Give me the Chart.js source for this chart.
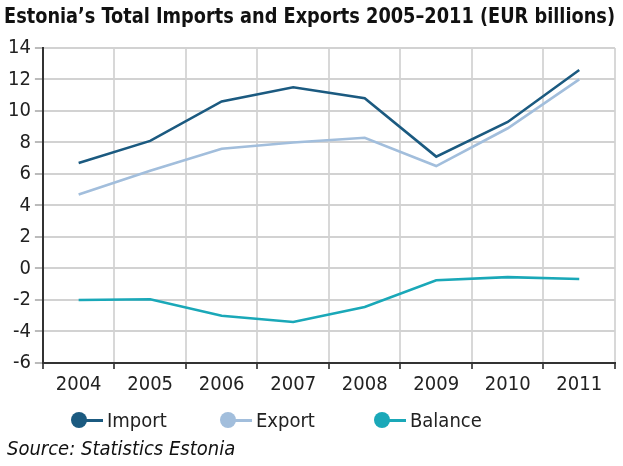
<!DOCTYPE html>
<html>
<head>
<meta charset="utf-8">
<script src="https://cdn.jsdelivr.net/npm/chart.js@4"></script>
<style>
  html, body { margin: 0; padding: 0; background: #fff; }
  #wrap { position: relative; width: 623px; height: 466px; font-family: "Liberation Sans Narrow", "DejaVu Sans Condensed", sans-serif; }
  #c { position: absolute; left: 0; top: 0; }
  #source { position: absolute; left: 7px; top: 436px; font-style: italic; font-size: 20px; color: #111; }
  .leg { position: absolute; top: 408px; height: 24px; font-size: 20px; color: #222; line-height: 24px; }
  .leg .dot { position: absolute; left: 0; top: 4px; width: 16px; height: 16px; border-radius: 50%; }
  .leg .ln { position: absolute; left: 8px; top: 10.5px; width: 24px; height: 3px; }
  .leg .tx { position: absolute; left: 36px; top: 0; white-space: nowrap; }
</style>
</head>
<body>
<div id="wrap">
  <canvas id="c" width="623" height="466"></canvas>
  <div id="legend"></div>
  <div id="source">Source: Statistics Estonia</div>
</div>
<script>
const years = ["2004", "2005", "2006", "2007", "2008", "2009", "2010", "2011"];
const importValues = [6.7, 8.1, 10.6, 11.5, 10.8, 7.1, 9.3, 12.6];
const exportValues = [4.7, 6.2, 7.6, 8.0, 8.3, 6.5, 8.9, 12.0];
const balanceValues = [-2.0, -1.95, -3.0, -3.4, -2.45, -0.75, -0.55, -0.67];
const seriesNames = ["Import", "Export", "Balance"];
const seriesColors = ["#1b5a80", "#a2bedc", "#1aa8b8"];

const FONT = '"Liberation Sans Narrow", "DejaVu Sans Condensed", sans-serif';

const allValues = [importValues, exportValues, balanceValues];

// HTML legend (circle + line marker)
const legendLeft = [71, 220, 374];
const legendEl = document.getElementById('legend');
seriesNames.forEach((name, i) => {
  const d = document.createElement('div');
  d.className = 'leg';
  d.style.left = legendLeft[i] + 'px';
  d.innerHTML = '<span class="dot" style="background:' + seriesColors[i] + '"></span>' +
                '<span class="ln" style="background:' + seriesColors[i] + '"></span>' +
                '<span class="tx">' + name + '</span>';
  legendEl.appendChild(d);
});

new Chart(document.getElementById('c'), {
  type: 'line',
  data: {
    labels: years,
    datasets: allValues.map((vals, i) => ({
      label: seriesNames[i],
      data: vals,
      borderColor: seriesColors[i],
      backgroundColor: seriesColors[i],
      borderWidth: 2.6,
      pointRadius: 0,
      tension: 0
    }))
  },
  options: {
    responsive: false,
    animation: false,
    layout: { padding: { left: 4, right: 8, top: 0, bottom: 65 } },
    plugins: {
      title: {
        display: true,
        text: "Estonia\u2019s Total Imports and Exports 2005\u20132011 (EUR billions)",
        align: 'start',
        color: '#111',
        font: { family: FONT, size: 21.6, weight: 'bold' },
        padding: { top: 4, bottom: 18 }
      },
      legend: { display: false },
      tooltip: { enabled: false }
    },
    scales: {
      x: {
        offset: true,
        grid: { offset: true, color: '#d8d8d8', lineWidth: 2, tickLength: 6, tickColor: '#555' },
        border: { color: '#333', width: 2 },
        ticks: { color: '#222', font: { family: FONT, size: 20 }, padding: 4 }
      },
      y: {
        min: -6, max: 14,
        ticks: { stepSize: 2, color: '#222', font: { family: FONT, size: 20 }, padding: 4 },
        grid: { color: '#d2d2d2', lineWidth: 2, tickLength: 8, tickColor: '#bbb' },
        border: { color: '#333', width: 2 }
      }
    }
  }
});
</script>
</body>
</html>
